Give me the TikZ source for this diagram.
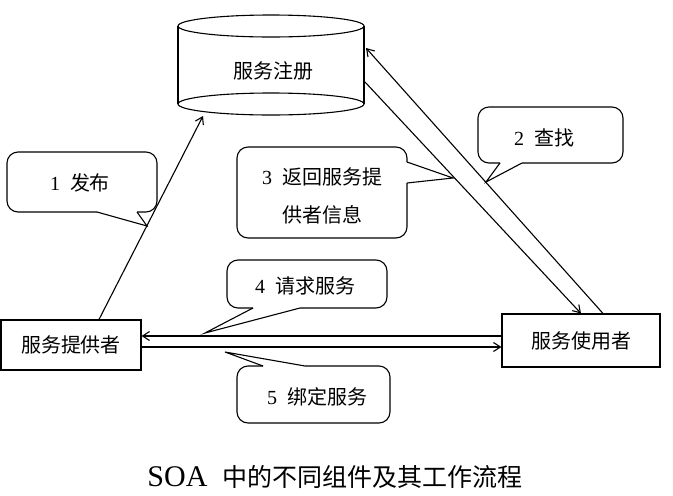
\documentclass[tikz,border=0pt]{standalone}
\usepackage{fontspec}
\setmainfont{Liberation Serif}
\newfontfamily\cjk{Noto Sans CJK SC}
\usetikzlibrary{arrows.meta,calc}

\tikzset{
  box/.style={draw=black, line width=1.1pt, inner sep=0pt},
  lbl/.style={font=\fontsize{20}{24}\selectfont\cjk, align=center},
  flow/.style={draw=black, line width=1.1pt, -{Straight Barb[length=7pt,width=9pt]}},
  bubble/.style={draw=black, line width=1.1pt, rounded corners=11pt},
  tail/.style={draw=black, line width=1.1pt, line join=miter},
}

\begin{document}
\begin{tikzpicture}[x=1pt, y=1pt, yscale=-1]
\useasboundingbox (0,0) rectangle (673,496);

% registry (cylinder)
\draw[line width=1.1pt] (271,26) ellipse [x radius=93, y radius=11];
\draw[line width=1.1pt] (271,104) ellipse [x radius=93, y radius=11];
\draw[line width=1.1pt] (178,26) -- (178,104);
\draw[line width=1.1pt] (364,26) -- (364,104);
\node[lbl] (reg) at (273,71) {服务注册};
\coordinate (regB) at (203,116);
\coordinate (regR1) at (366,48);
\coordinate (regR2) at (365,82);

% provider and consumer
\node[box, lbl, minimum width=140pt, minimum height=50pt] (prov) at (71,345) {服务提供者};
\node[box, lbl, minimum width=158pt, minimum height=53pt] (cons) at (581,340.5) {服务使用者};

% flows
\draw[flow] ([xshift=28pt]prov.north) -- (regB);
\draw[flow] ([xshift=22pt]cons.north) -- (regR1);
\draw[flow] (regR2) -- (cons.north);
\draw[flow] ([yshift=-4.5pt]cons.west) -- ([yshift=-4.5pt]cons.west -| prov.east);
\draw[flow] ([yshift=6.5pt]cons.west -| prov.east) -- ([yshift=6.5pt]cons.west);

% callouts
\node[lbl] (c1) at (80,183) {{\rmfamily 1}\enspace 发布};
\path[bubble] (97,212) -- (7,212) -- (7,152) -- (157,152) -- (157,212) -- (137,212);
\path[tail] (137,212) -- (147,226) -- (97,212);

\node[lbl] (c2) at (544,138) {{\rmfamily 2}\enspace 查找};
\path[bubble] (500,163) -- (478,163) -- (478,107) -- (623,107) -- (623,163) -- (522,163);
\path[tail] (522,163) -- (486,182) -- (500,163);

\node[lbl] (c3) at (322,196) {{\rmfamily 3}\enspace 返回服务提\\[14pt]供者信息};
\path[bubble] (407,183) -- (407,238) -- (237,238) -- (237,147) -- (407,147) -- (407,162);
\path[tail] (407,162) -- (453,178) -- (407,183);

\node[lbl] (c4) at (305,286) {{\rmfamily 4}\enspace 请求服务};
\path[bubble] (300,308) -- (387,308) -- (387,260) -- (227,260) -- (227,308) -- (253,308);
\path[tail] (253,308) -- (205,333) -- (300,308);

\node[lbl] (c5) at (317,397) {{\rmfamily 5}\enspace 绑定服务};
\path[bubble] (263,366) -- (237,366) -- (237,423) -- (390,423) -- (390,366) -- (305,366);
\path[tail] (305,366) -- (225,352) -- (263,366);

% caption
\node[font=\fontsize{30}{36}\selectfont] (cap) at (335,477) {SOA\enspace{\cjk\fontsize{25}{30}\selectfont 中的不同组件及其工作流程}};
\end{tikzpicture}
\end{document}
